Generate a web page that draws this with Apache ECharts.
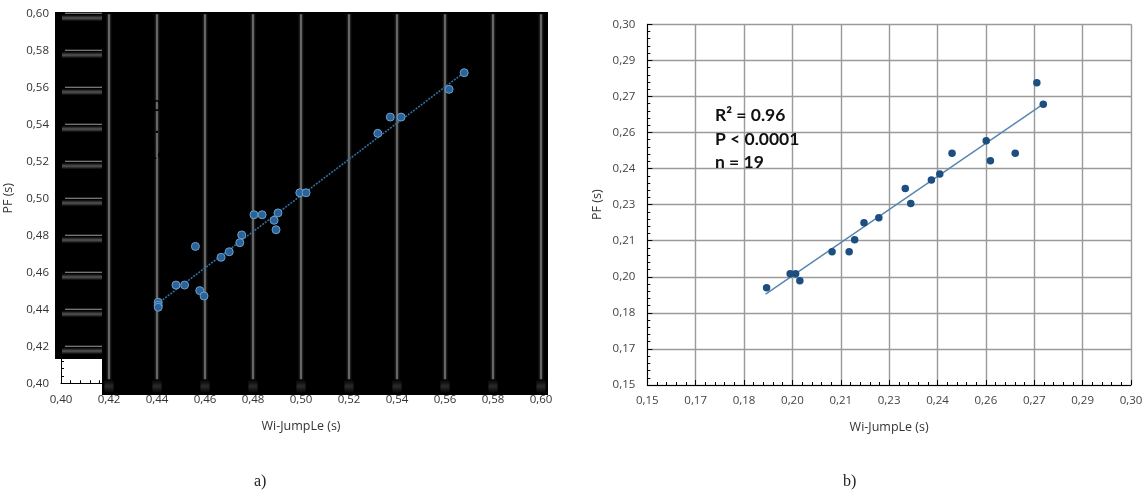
<!DOCTYPE html>
<html><head><meta charset="utf-8">
<style>html,body{margin:0;padding:0;background:#fff}#c{width:1148px;height:494px}</style>
<script src="https://cdn.jsdelivr.net/npm/echarts@6/dist/echarts.min.js"></script>
</head><body><div id="c"></div>
<script>
// ----- panel a -----
const aPoints = [[.4405,.4438],[.4405,.4422],[.4405,.4411],[.4479,.4531],[.4515,.4531],[.4560,.4740],[.4578,.4501],[.4596,.4472],[.4667,.4681],[.4701,.4711],[.4745,.4760],[.4753,.4802],[.4804,.4911],[.4838,.4911],[.4888,.4881],[.4896,.4830],[.4904,.4921],[.4995,.5030],[.5021,.5030],[.5320,.5351],[.5372,.5439],[.5417,.5439],[.5617,.5589],[.5680,.5679]];
const aTrend = [[.4413,.4441],[.5680,.5680]];
const aVerticalGrid = [.42,.44,.46,.48,.50,.52,.54,.56,.58,.60];
const aHorizontalGrid = [.42,.44,.46,.48,.50,.52,.54,.56,.58,.60];
// ----- panel b -----
const bPoints = [[.1870,.1904],[.1943,.1963],[.1960,.1963],[.1973,.1934],[.2073,.2054],[.2126,.2054],[.2143,.2104],[.2172,.2175],[.2218,.2196],[.2300,.2317],[.2317,.2255],[.2381,.2352],[.2407,.2377],[.2445,.2464],[.2551,.2516],[.2564,.2433],[.2641,.2464],[.2708,.2757],[.2728,.2668]];
const bTrend = [[.1867,.1878],[.2723,.2664]];
const bTickLabels = ['0,15','0,17','0,18','0,20','0,21','0,23','0,24','0,26','0,27','0,29','0,30'];
const xName = 'Wi-JumpLe (s)';
const yName = 'PF (s)';
const statLines = ['R\u00B2 = 0.96','P < 0.0001','n = 19'];

const font = '"Open Sans"';
const labelA = {fontFamily:font,fontSize:11.5,color:'#333'};
const labelB = {fontFamily:font,fontSize:11.5,color:'#444'};
const comma = v => v.toFixed(2).replace('.',',');
function axis(gridIndex, min, max, interval, fmt, name, gap, splitShow, lab, margin){
  return {type:'value',gridIndex,min,max,interval,name,nameLocation:'middle',nameGap:gap,
    nameTextStyle:{fontFamily:font,fontSize:12.5,color:'#333'},
    axisLine:{show:true,onZero:false,lineStyle:{color:'#000',width:1}},
    axisTick:{show:true,inside:true,length:5,lineStyle:{color:'#000'}},
    minorTick:{show:true,splitNumber:5,length:3,lineStyle:{color:'#000'}},
    axisLabel:{...lab,margin,formatter:fmt,hideOverlap:false,showMinLabel:true,showMaxLabel:true},
    splitLine:{show:splitShow,lineStyle:{color:'#9a9a9a',width:1.4}},
    minorSplitLine:{show:false}};
}
const fadeH = (c)=>({type:'linear',x:0,y:0,x2:1,y2:0,colorStops:[{offset:0,color:'#000'},{offset:.5,color:c},{offset:1,color:'#000'}]});
const fadeV = (c)=>({type:'linear',x:0,y:0,x2:0,y2:1,colorStops:[{offset:0,color:'#000'},{offset:.5,color:c},{offset:1,color:'#000'}]});
const blackText = (t,l,tp)=>({type:'text',z:20,silent:true,left:l,top:tp,style:{text:t,font:'bold 16px Lato',fill:'#000'}});
const statText = (t,tp)=>({type:'text',z:20,silent:true,left:715,top:tp,style:{text:t,font:'bold 17.5px Lato',fill:'#111'}});

const chart = echarts.init(document.getElementById('c'),null,{renderer:'canvas'});
chart.setOption({
  animation:false,backgroundColor:'#fff',
  grid:[{left:61,top:13.3,width:480,height:370},{left:647.3,top:24.3,width:483.7,height:360.7}],
  xAxis:[
    axis(0,.4,.6,.02,v=>comma(v),xName,37,false,labelA,10),
    axis(1,.15,.30,.015,(v,i)=>bTickLabels[i],xName,36,true,labelB,10)
  ],
  yAxis:[
    axis(0,.4,.6,.02,v=>comma(v),yName,46,false,labelA,12),
    axis(1,.15,.30,.015,(v,i)=>bTickLabels[i],yName,43,true,labelB,12)
  ],
  graphic:{elements:[
    {type:'rect',z:-10,silent:true,shape:{x:55,y:12,width:493,height:347},style:{fill:'#000'}},
    {type:'rect',z:-10,silent:true,shape:{x:102,y:359,width:446,height:36},style:{fill:'#000'}},
    blackText('0',152,98), blackText('.',155,120), blackText('16',148,146),
    statText(statLines[0],106), statText(statLines[1],130), statText(statLines[2],153),
    {type:'text',z:20,silent:true,left:254,top:474,style:{text:'a)',font:'16px "Liberation Serif"',fill:'#222'}},
    {type:'text',z:20,silent:true,left:843,top:474,style:{text:'b)',font:'16px "Liberation Serif"',fill:'#222'}}
  ]},
  series:[
    {type:'custom',xAxisIndex:0,yAxisIndex:0,coordinateSystem:'cartesian2d',clip:false,z:1,silent:true,
     data:aVerticalGrid.map(v=>[v]),encode:{x:0},
     renderItem(p,api){
       const t=api.coord([api.value(0),.6]), b=api.coord([api.value(0),.4]);
       const x=t[0];
       return {type:'group',children:[
         {type:'rect',shape:{x:x-3,y:t[1]+1,width:6,height:b[1]-t[1]-1},style:{fill:fadeH('#3c3c3c')}},
         {type:'rect',shape:{x:x-.7,y:t[1]+1,width:1.4,height:b[1]-t[1]-2},style:{fill:'#7c7c7c'}},
         {type:'rect',shape:{x:x-4.5,y:b[1]-4,width:9,height:14},style:{fill:fadeV('#2a2a2a')}}
       ]};
     }},
    {type:'custom',xAxisIndex:0,yAxisIndex:0,coordinateSystem:'cartesian2d',clip:false,z:1,silent:true,
     data:aHorizontalGrid.map(v=>[.4,v]),encode:{x:0,y:1},
     renderItem(p,api){
       const l=api.coord([api.value(0),api.value(1)]);
       const r=102;
       return {type:'group',children:[
         {type:'rect',shape:{x:l[0]+1,y:l[1]+1.5,width:r-l[0]-1,height:6.5},style:{fill:fadeV('#555')}},
         {type:'rect',shape:{x:l[0]+4,y:l[1]-.5,width:r-l[0]-4,height:1},style:{fill:'#9c9c9c'}}
       ]};
     }},
    {type:'line',xAxisIndex:0,yAxisIndex:0,data:aTrend,symbol:'none',silent:true,z:3,
     lineStyle:{color:'#2f6ea3',width:1.6,type:[2,1.2]}},
    {type:'scatter',xAxisIndex:0,yAxisIndex:0,data:aPoints,symbolSize:8,z:4,
     itemStyle:{color:'#2a6399',borderColor:'#6e9fca',borderWidth:1,opacity:1}},
    {type:'line',xAxisIndex:1,yAxisIndex:1,data:bTrend,symbol:'none',silent:true,z:3,
     lineStyle:{color:'#5585b0',width:1.4}},
    {type:'scatter',xAxisIndex:1,yAxisIndex:1,data:bPoints,symbolSize:7.5,z:4,
     itemStyle:{color:'#1c4e80',opacity:1}}
  ]
});
</script></body></html>
